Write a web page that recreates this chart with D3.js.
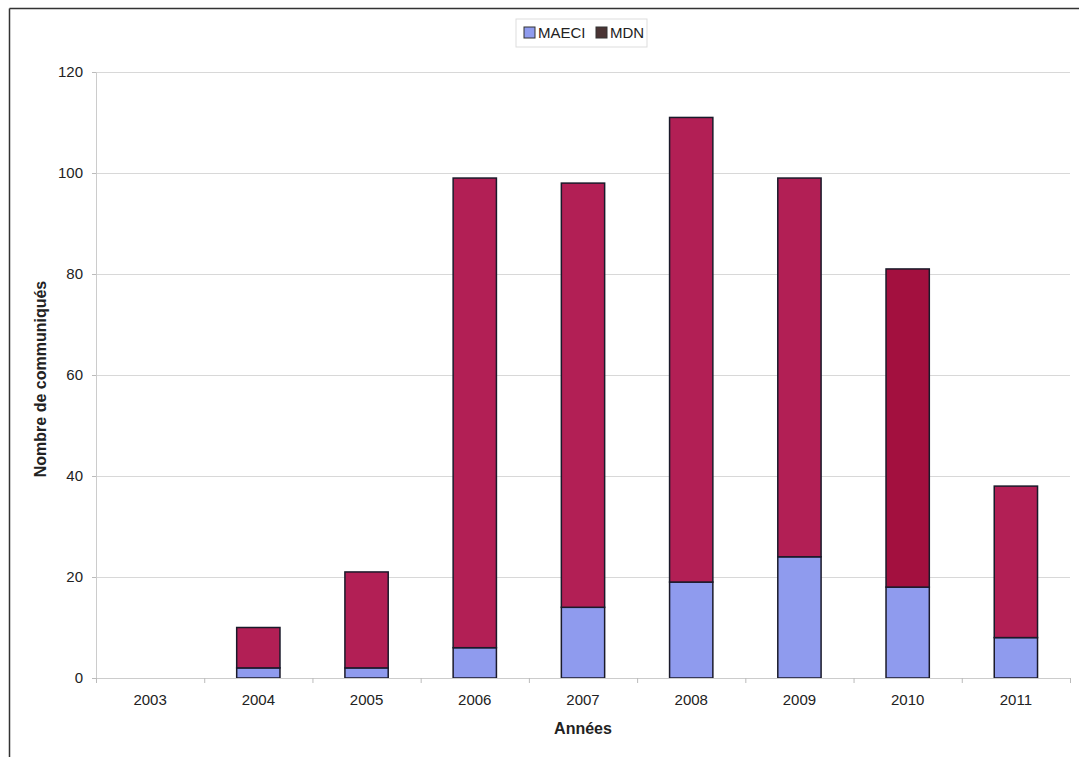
<!DOCTYPE html>
<html lang="fr">
  <head>
    <meta charset="UTF-8" />
    <title>Communiqués MAECI / MDN</title>
    <script src="https://d3js.org/d3.v7.min.js"></script>
    <style>
      body {
        margin: 0;
        background: #fff;
      }
      .chart text {
        font-family: "Liberation Sans", Arial, Helvetica, sans-serif;
        fill: #222;
      }
    </style>
  </head>
  <body>
    <div class="chart"></div>
  </body>

  <script>
    // data
    var years = ["2003", "2004", "2005", "2006", "2007", "2008", "2009", "2010", "2011"];
    var maeci = [0, 2, 2, 6, 14, 19, 24, 18, 8];
    var mdn = [0, 8, 19, 93, 84, 92, 75, 63, 30];
    var seriesNames = ["MAECI", "MDN"];
    var yTicks = [0, 20, 40, 60, 80, 100, 120];

    var W = 1079, H = 757;
    var margin = { top: 72, right: 9, bottom: 79, left: 96 };
    var width = W - margin.left - margin.right;
    var height = H - margin.top - margin.bottom;

    var svgRoot = d3.select(".chart").append("svg")
      .attr("width", W)
      .attr("height", H);

    // frame (scan shows only top and left edges)
    svgRoot.append("line")
      .attr("x1", 9.5).attr("x2", W).attr("y1", 8.5).attr("y2", 8.5)
      .attr("stroke", "#333").attr("stroke-width", 1.5);
    svgRoot.append("line")
      .attr("x1", 9.5).attr("x2", 9.5).attr("y1", 8.5).attr("y2", H)
      .attr("stroke", "#333").attr("stroke-width", 1.5);

    var svg = svgRoot.append("g")
      .attr("transform", "translate(" + margin.left + "," + margin.top + ")");

    var x = d3.scaleBand().domain(years).range([0, width]).paddingInner(0.6).paddingOuter(0.3);
    var xOuter = d3.scaleBand().domain(years).range([0, width]);
    var y = d3.scaleLinear().domain([0, 120]).range([height, 0]);

    // gridlines
    svg.append("g")
      .selectAll("line")
      .data(yTicks.filter(function (d) { return d > 0; }))
      .enter()
      .append("line")
      .attr("x1", 0)
      .attr("x2", width)
      .attr("y1", function (d) { return y(d) + 0.5; })
      .attr("y2", function (d) { return y(d) + 0.5; })
      .attr("stroke", "#d8d8d8");

    // y axis
    var yAxis = svg.append("g")
      .call(d3.axisLeft(y).tickValues(yTicks).tickSize(4).tickPadding(9));
    yAxis.select(".domain").attr("stroke", "#ccc");
    yAxis.selectAll(".tick line").attr("stroke", "#bbb");
    yAxis.selectAll("text").style("font-size", "15px").attr("fill", "#222");

    // stacked bars
    var table = years.map(function (yr, i) {
      return { year: yr, MAECI: maeci[i], MDN: mdn[i] };
    });
    var stack = d3.stack().keys(seriesNames)(table);
    var colors = { MAECI: "#8f9bee", MDN: "#b21f55" };

    svg.append("g")
      .selectAll("g")
      .data(stack)
      .enter()
      .append("g")
      .attr("fill", function (d) { return colors[d.key]; })
      .selectAll("rect")
      .data(function (d) { return d.filter(function (p) { return p[1] > p[0]; }); })
      .enter()
      .append("rect")
      .attr("x", function (d) { return x(d.data.year); })
      .attr("width", x.bandwidth())
      .attr("y", function (d) { return y(d[1]); })
      .attr("height", function (d) { return y(d[0]) - y(d[1]); })
      .attr("fill", function (d) { return d.data.year === "2010" && d[0] > 0 ? "#a3103f" : null; })
      .attr("stroke", "#1a1a2a")
      .attr("stroke-width", 1.5);

    // x axis
    var xAxis = svg.append("g")
      .attr("transform", "translate(0," + height + ")")
      .call(d3.axisBottom(xOuter).tickSize(0).tickPadding(16));
    xAxis.select(".domain").attr("stroke", "#ccc");
    xAxis.selectAll("text").style("font-size", "15px").attr("fill", "#222");
    // tick marks between categories
    xAxis.append("g")
      .selectAll("line")
      .data(years.concat(["end"]))
      .enter()
      .append("line")
      .attr("x1", function (d, i) { return i * xOuter.step() + 0.5; })
      .attr("x2", function (d, i) { return i * xOuter.step() + 0.5; })
      .attr("y1", 0)
      .attr("y2", 5)
      .attr("stroke", "#bbb");

    // axis titles
    svg.append("text")
      .attr("x", width / 2)
      .attr("y", height + 56)
      .attr("text-anchor", "middle")
      .style("font-size", "16px")
      .style("font-weight", "bold")
      .text("Années");

    svg.append("text")
      .attr("transform", "translate(" + (-50) + "," + (height / 2 + 4) + ") rotate(-90)")
      .attr("text-anchor", "middle")
      .style("font-size", "16px")
      .style("font-weight", "bold")
      .text("Nombre de communiqués");

    // legend
    var legend = svgRoot.append("g").attr("transform", "translate(516,19)");
    legend.append("rect")
      .attr("width", 131).attr("height", 28)
      .attr("fill", "#fff").attr("stroke", "#ddd");
    var legendSwatch = { MAECI: "#8f9bee", MDN: "#4a3434" };
    var items = legend.selectAll(".item")
      .data(seriesNames)
      .enter()
      .append("g")
      .attr("class", "item")
      .attr("transform", function (d, i) { return "translate(" + (8 + i * 72) + ",8)"; });
    items.append("rect")
      .attr("width", 11).attr("height", 11)
      .attr("fill", function (d) { return legendSwatch[d]; })
      .attr("stroke", "#333");
    items.append("text")
      .attr("x", 14)
      .attr("y", 11)
      .style("font-size", "15px")
      .text(function (d) { return d; });
  </script>
</html>
